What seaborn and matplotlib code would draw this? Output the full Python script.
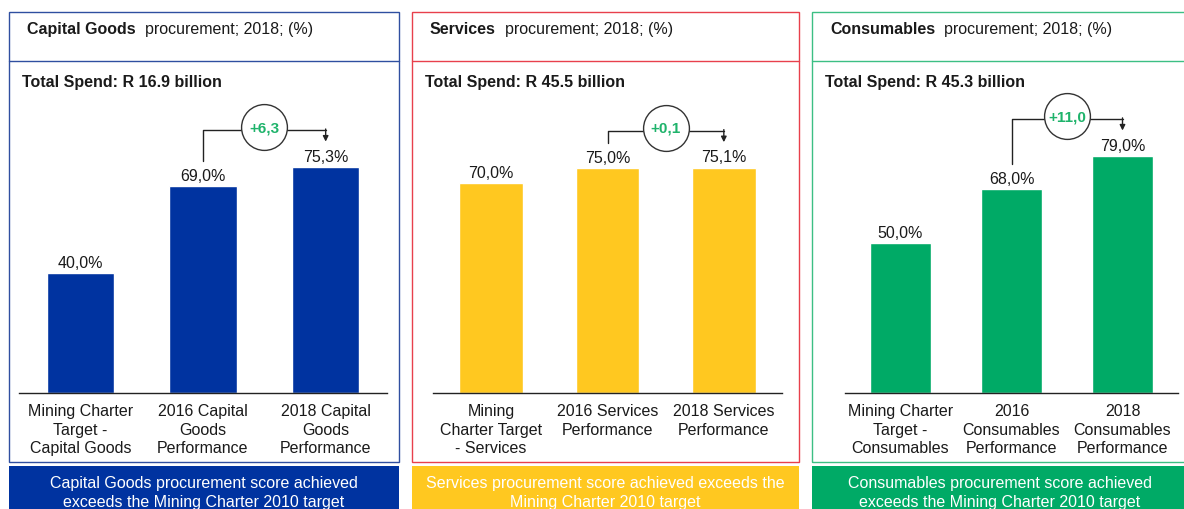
import seaborn as sns
import matplotlib.pyplot as plt
from matplotlib.patches import Rectangle
from matplotlib.lines import Line2D

sns.set_style("white")
plt.rcParams['font.family'] = ['Liberation Sans', 'DejaVu Sans']

# data
titles = ["Capital Goods", "Services", "Consumables"]
total_spend = ["Total Spend: R 16.9 billion", "Total Spend: R 45.5 billion", "Total Spend: R 45.3 billion"]

cats_capital = ["Mining Charter\nTarget -\nCapital Goods", "2016 Capital\nGoods\nPerformance", "2018 Capital\nGoods\nPerformance"]
cats_services = ["Mining\nCharter Target\n- Services", "2016 Services\nPerformance", "2018 Services\nPerformance"]
cats_consumables = ["Mining Charter\nTarget -\nConsumables", "2016\nConsumables\nPerformance", "2018\nConsumables\nPerformance"]

vals_capital = [40.0, 69.0, 75.3]
vals_services = [70.0, 75.0, 75.1]
vals_consumables = [50.0, 68.0, 79.0]

deltas = ["+6,3", "+0,1", "+11,0"]

banners = ["Capital Goods procurement score achieved\nexceeds the Mining Charter 2010 target",
           "Services procurement score achieved exceeds the\nMining Charter 2010 target",
           "Consumables procurement score achieved\nexceeds the Mining Charter 2010 target"]

bar_colors = ["#0033a0", "#ffc820", "#00aa66"]
border_colors = ["#2f4fa0", "#e8404c", "#3cbf84"]
txt = '#1a1a1a'
fs = 11.5

# layout in pixels: box left/right, axis left/right
W, H = 1184, 510
boxes = [(9, 399, 19, 387), (412, 799, 433, 782), (812, 1195, 845, 1178)]
box_top, divider, box_bottom = 13, 62, 463
banner_top = 467
axis_bottom, axis_top = 394, 100

fig = plt.figure(figsize=(W / 100, H / 100), dpi=100)
renderer = fig.canvas.get_renderer()


def fx(x):
    return x / W


def fy(y):
    return 1 - y / H


all_cats = [cats_capital, cats_services, cats_consumables]
all_vals = [vals_capital, vals_services, vals_consumables]

for i in range(3):
    bl, br, al, ar = boxes[i]
    cats, vals = all_cats[i], all_vals[i]

    # panel frame
    fig.patches.append(Rectangle((fx(bl), fy(box_bottom)), fx(br - bl), (box_bottom - box_top) / H,
                                 transform=fig.transFigure, fill=False, ec=border_colors[i], lw=1.0))
    fig.lines.append(Line2D([fx(bl), fx(br)], [fy(divider)] * 2, transform=fig.transFigure,
                            color=border_colors[i], lw=1.0))
    fig.patches.append(Rectangle((fx(bl), fy(H + 10)), fx(br - bl), (H + 10 - banner_top) / H,
                                 transform=fig.transFigure, fc=bar_colors[i], ec='none'))
    fig.text(fx((bl + min(br, W + 4)) / 2), fy(476), banners[i], ha='center', va='top',
             color='white', fontsize=fs, linespacing=1.35)

    # header text: bold title followed by regular text on the same baseline
    t = fig.text(fx(bl + 18), fy(34), titles[i], fontsize=fs, fontweight='bold', va='baseline', color=txt)
    ext = t.get_window_extent(renderer)
    fig.text(ext.x1 / W, fy(34), "  procurement; 2018; (%)", fontsize=fs, va='baseline', color=txt)
    fig.text(fx(bl + 13), fy(82), total_spend[i], fontsize=fs, fontweight='bold', va='center', color=txt)

    # bars
    ax = fig.add_axes([fx(al), fy(axis_bottom), fx(ar - al), (axis_bottom - axis_top) / H])
    sns.barplot(x=cats, y=vals, color=bar_colors[i], saturation=1, width=0.55, ax=ax)
    ax.set_xlim(-0.5, 2.5)
    ax.set_ylim(0, 98)
    ax.bar_label(ax.containers[0], labels=[f"{v:.1f}%".replace('.', ',') for v in vals],
                 padding=2.5, fontsize=fs, color=txt)
    for s in ['top', 'right', 'left']:
        ax.spines[s].set_visible(False)
    ax.spines['bottom'].set_color('#222222')
    ax.spines['bottom'].set_linewidth(1.0)
    ax.set_yticks([])
    ax.set_xlabel('')
    ax.set_ylabel('')
    ax.tick_params(axis='x', length=0, pad=7, labelsize=fs, labelcolor=txt)
    for lab in ax.get_xticklabels():
        lab.set_linespacing(1.32)

    # change bracket
    yb = max(vals[1], vals[2]) + 12.3
    ax.plot([1, 1, 2], [vals[1] + 8.5, yb, yb], color='#222222', lw=1.0, clip_on=False)
    ax.annotate('', xy=(2, vals[2] + 8.5), xytext=(2, yb + 0.4),
                arrowprops=dict(arrowstyle='-|>', color='#222222', lw=1.0, mutation_scale=8,
                                shrinkA=0, shrinkB=0), annotation_clip=False)
    ax.plot([1.5], [yb + 1], marker='o', ms=33, mfc='white', mec='#333333', mew=1.0,
            clip_on=False, zorder=5)
    ax.text(1.5, yb + 1, deltas[i], ha='center', va='center', color='#1fb36b',
            fontsize=11, fontweight='bold', zorder=6)

fig.savefig('out.png', dpi=100)
